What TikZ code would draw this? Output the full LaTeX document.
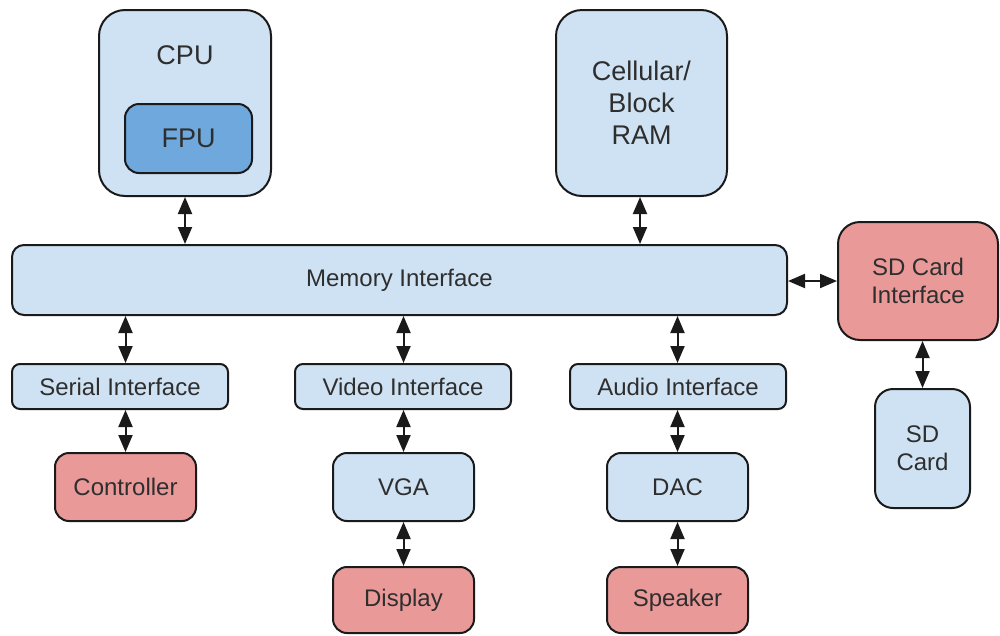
\documentclass[tikz,border=0pt]{standalone}
\usepackage{fontspec}
\setmainfont{Liberation Sans}
\usetikzlibrary{arrows.meta}
\definecolor{lb}{HTML}{CFE2F3}
\definecolor{db}{HTML}{6FA8DC}
\definecolor{rd}{HTML}{EA9999}
\definecolor{edge}{HTML}{1A1A1A}
\begin{document}
\begin{tikzpicture}[x=1pt,y=-1pt,
 box/.style={draw=edge, line width=2pt, rounded corners=10pt, inner sep=0pt, align=center, font=\fontsize{24}{28}\selectfont, text=black!82},
 big/.style={box, rounded corners=26pt, font=\fontsize{27}{32}\selectfont},
 tip/.tip={Triangle[length=17pt 0 0,width=14pt 0 0]},
 arr/.style={line width=2pt, draw=edge, tip-tip}]
\useasboundingbox (0,0) rectangle (1000,635);
% top
\node[big, fill=lb, minimum width=172, minimum height=186] (cpu) at (185,103) {};
\node[font=\fontsize{27}{32}\selectfont, text=black!82, inner sep=0pt] (cput) at (185,55) {CPU};
\node[box, fill=db, rounded corners=14pt, minimum width=127, minimum height=69, font=\fontsize{27}{32}\selectfont] (fpu) at (188.5,138.5) {FPU};
\node[big, fill=lb, minimum width=171, minimum height=186] (ram) at (641.5,103) {Cellular/\\Block\\RAM};
% memory interface
\node[box, fill=lb, rounded corners=12pt, minimum width=775, minimum height=70] (mem) at (399.5,280) {Memory Interface};
\node[box, fill=rd, rounded corners=22pt, minimum width=160, minimum height=118] (sdci) at (918,281) {SD Card\\Interface};
\node[box, fill=lb, rounded corners=18pt, minimum width=95, minimum height=119] (sd) at (922.5,448.5) {SD\\Card};
% interfaces
\node[box, fill=lb, rounded corners=8pt, minimum width=216, minimum height=45] (ser) at (120,386.5) {Serial Interface};
\node[box, fill=lb, rounded corners=8pt, minimum width=216, minimum height=45] (vid) at (403,386.5) {Video Interface};
\node[box, fill=lb, rounded corners=8pt, minimum width=216, minimum height=45] (aud) at (678,386.5) {Audio Interface};
% devices
\node[box, fill=rd, rounded corners=14pt, minimum width=141, minimum height=68] (ctrl) at (125.5,487) {Controller};
\node[box, fill=lb, rounded corners=14pt, minimum width=141, minimum height=68] (vga) at (403.5,487) {VGA};
\node[box, fill=lb, rounded corners=14pt, minimum width=141, minimum height=68] (dac) at (677.5,487) {DAC};
\node[box, fill=rd, rounded corners=14pt, minimum width=141, minimum height=66] (disp) at (403.5,600) {Display};
\node[box, fill=rd, rounded corners=14pt, minimum width=141, minimum height=66] (spk) at (677.5,600) {Speaker};
% connectors
\draw[arr] (cpu.south) -- (cpu.south |- mem.north);
\draw[arr] (ram.south -| 640,0) -- (mem.north -| 640,0);
\draw[arr] (mem.south -| ctrl.north) -- (ser.north -| ctrl.north);
\draw[arr] (mem.south -| vga.north) -- (vid.north -| vga.north);
\draw[arr] (mem.south -| dac.north) -- (aud.north -| dac.north);
\draw[arr] (ser.south -| ctrl.north) -- (ctrl.north);
\draw[arr] (vid.south -| vga.north) -- (vga.north);
\draw[arr] (aud.south -| dac.north) -- (dac.north);
\draw[arr] (vga.south) -- (disp.north);
\draw[arr] (dac.south) -- (spk.north);
\draw[arr] (mem.east |- sdci.west) -- (sdci.west);
\draw[arr] (sdci.south -| sd.north) -- (sd.north);
\end{tikzpicture}
\end{document}
